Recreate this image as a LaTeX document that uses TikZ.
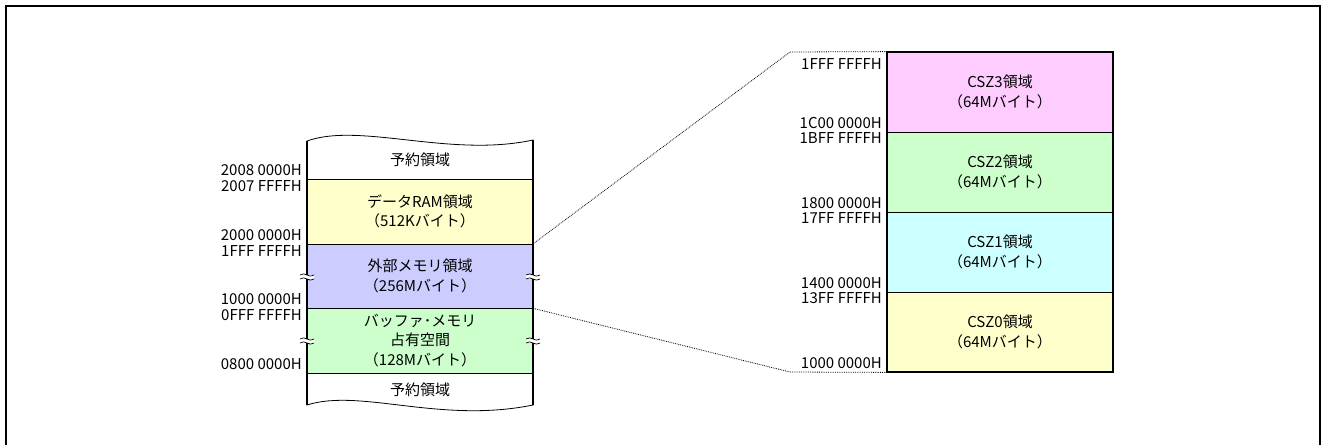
\documentclass[tikz,border=0pt]{standalone}
\usepackage{fontspec}
\setmainfont{Noto Sans CJK JP}
\definecolor{ramyellow}{HTML}{FFFFCC}
\definecolor{extblue}{HTML}{CCCCFF}
\definecolor{bufgreen}{HTML}{CCFFCC}
\definecolor{cszpink}{HTML}{FFCCFF}
\definecolor{cszcyan}{HTML}{CCFFFF}
\begin{document}
\begin{tikzpicture}[x=1pt,y=-1pt,
  every node/.style={font=\fontsize{15}{19.5}\selectfont},
  memblk/.style={rectangle,draw=black,line width=0.8pt,minimum width=226pt,align=center,inner sep=0pt},
  addr/.style={anchor=base east,inner sep=0pt},
  zoomline/.style={densely dotted,line width=0.8pt}]
\useasboundingbox (0,0) rectangle (1322,445);
\draw[line width=2.5pt] (6,445)--(6,6)--(1320,6)--(1320,445);

% left column
\draw[line width=0.8pt,fill=white] (307,179)--(307,141) .. controls (360,122) and (450,158) .. (533,140)--(533,179);
\draw[line width=0.8pt,fill=white] (307,373)--(307,405) .. controls (360,388) and (440,424) .. (533,405)--(533,373);
\node (rsvtop) at (420,160){予約領域};
\node (ram) at (420,211.5)[memblk,fill=ramyellow,minimum height=65pt]{データRAM領域\\（512Kバイト）};
\node (ext) at (420,276)[memblk,fill=extblue,minimum height=64pt]{外部メモリ領域\\（256Mバイト）};
\node (buf) at (420,340.5)[memblk,fill=bufgreen,minimum height=65pt]{バッファ･メモリ\\占有空間\\（128Mバイト）};
\node (rsvbot) at (420,390){予約領域};
\draw[line width=1.6pt] (307,141)--(307,405);
\draw[line width=1.6pt] (533,140)--(533,405);
\foreach \p in {(307,277),(533,277),(307,341),(533,341)}{
  \fill[white,shift={\p}] (-7,-2) rectangle (7,2);
  \draw[line width=0.7pt,shift={\p}] (-7,-2) .. controls (-2,-6) and (2,2) .. (7,-2);
  \draw[line width=0.7pt,shift={\p}] (-7,2) .. controls (-2,-2) and (2,6) .. (7,2);
}

\node[addr] (a1) at (302,175){2008 0000H};
\node[addr] (a2) at (302,191){2007 FFFFH};
\node[addr] (a3) at (302,240){2000 0000H};
\node[addr] (a4) at (302,256){1FFF FFFFH};
\node[addr] (a5) at (302,304){1000 0000H};
\node[addr] (a6) at (302,320){0FFF FFFFH};
\node[addr] (a7) at (302,369){0800 0000H};

% right column
\node (csz3) at (1000,92)[memblk,fill=cszpink,minimum height=80pt]{CSZ3領域\\（64Mバイト）};
\node (csz2) at (1000,172)[memblk,fill=bufgreen,minimum height=80pt]{CSZ2領域\\（64Mバイト）};
\node (csz1) at (1000,252)[memblk,fill=cszcyan,minimum height=80pt]{CSZ1領域\\（64Mバイト）};
\node (csz0) at (1000,332)[memblk,fill=ramyellow,minimum height=80pt]{CSZ0領域\\（64Mバイト）};
\draw[line width=2pt] (csz3.north west) rectangle (csz0.south east);

\node[addr] (b1) at (882,69){1FFF FFFFH};
\node[addr] (b2) at (882,128){1C00 0000H};
\node[addr] (b3) at (882,143){1BFF FFFFH};
\node[addr] (b4) at (882,208){1800 0000H};
\node[addr] (b5) at (882,223){17FF FFFFH};
\node[addr] (b6) at (882,288){1400 0000H};
\node[addr] (b7) at (882,303){13FF FFFFH};
\node[addr] (b8) at (882,368){1000 0000H};

\coordinate (kinkup) at (790,52);
\coordinate (kinkdn) at (790,372);
\draw[zoomline] (ext.north east)--(kinkup)--(csz3.north west);
\draw[zoomline] (ext.south east)--(kinkdn)--(csz0.south west);
\end{tikzpicture}
\end{document}
